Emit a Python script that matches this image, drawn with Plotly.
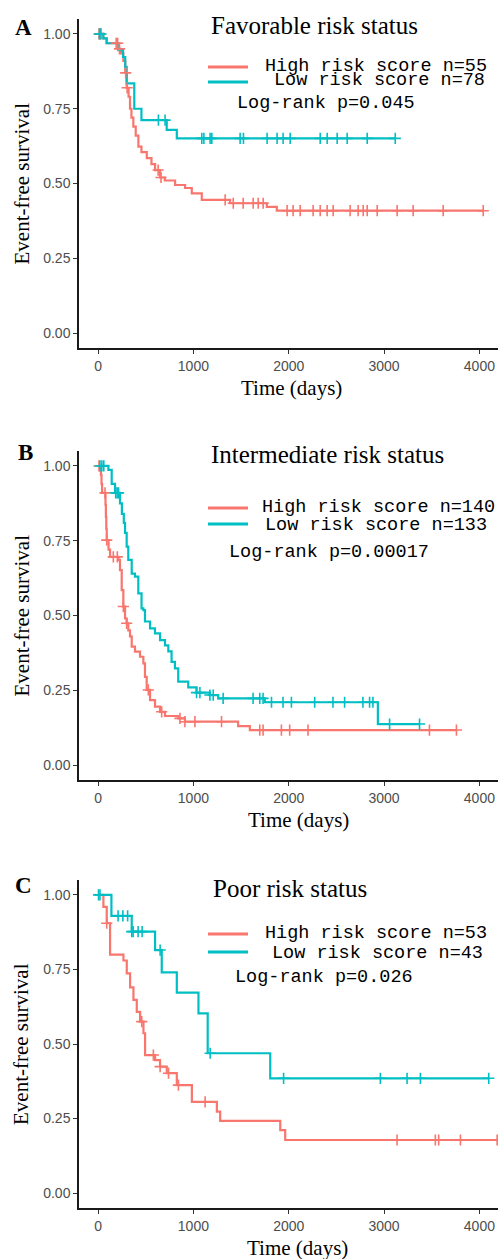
import numpy as np
import plotly.graph_objects as go

# ---------------- data ----------------
# Panel A: Favorable risk status
A_high_t = [0, 55, 90, 215, 240, 265, 285, 300, 320, 335, 350, 370, 395, 423, 455, 511, 560, 598,
            650, 700, 808, 913, 983, 1088, 1385, 1770, 1875, 4040]
A_high_s = [1.0, 0.985, 0.969, 0.95, 0.935, 0.91, 0.87, 0.82, 0.79, 0.75, 0.72, 0.69, 0.66, 0.623,
            0.605, 0.585, 0.565, 0.545, 0.52, 0.51, 0.495, 0.485, 0.467, 0.445, 0.434, 0.422, 0.409, 0.409]
A_high_cens = [10, 25, 190, 205, 225, 290, 305, 630, 660, 1333, 1418, 1522, 1627, 1680, 1732, 1983,
               2046, 2120, 2256, 2330, 2403, 2466, 2644, 2728, 2781, 2823, 2928, 3137, 3305, 3620, 4040]
A_low_t = [0, 55, 90, 213, 262, 285, 300, 380, 455, 720, 826, 3117]
A_low_s = [1.0, 0.985, 0.969, 0.946, 0.923, 0.89, 0.835, 0.75, 0.712, 0.679, 0.651, 0.651]
A_low_cens = [15, 30, 633, 703, 1088, 1110, 1175, 1193, 1490, 1525, 1773, 1878, 1941, 2015, 2330,
              2403, 2508, 2613, 2823, 3117]

# Panel B: Intermediate risk status
B_high_t = [0, 30, 36, 42, 78, 82, 86, 91, 110, 126, 213, 230, 248, 265, 283, 300, 317, 335, 353,
            387, 440, 475, 492, 510, 545, 597, 650, 702, 841, 911, 1469, 1592, 3759]
B_high_s = [1.0, 0.97, 0.94, 0.91, 0.87, 0.83, 0.79, 0.752, 0.72, 0.696, 0.686, 0.652, 0.585, 0.53,
            0.49, 0.474, 0.45, 0.43, 0.396, 0.379, 0.362, 0.34, 0.295, 0.251, 0.217, 0.195, 0.178,
            0.164, 0.156, 0.145, 0.13, 0.117, 0.117]
B_high_cens = [10, 73, 91, 160, 202, 265, 300, 527, 667, 859, 911, 1016, 1295, 1696, 1731, 1923,
               2010, 2202, 3476, 3759]
B_low_t = [0, 108, 143, 178, 230, 250, 270, 283, 300, 317, 353, 387, 422, 456, 475, 492, 545, 597,
           650, 702, 737, 771, 806, 841, 946, 1033, 1173, 1260, 1749, 2935, 3372]
B_low_s = [1.0, 0.987, 0.94, 0.91, 0.875, 0.84, 0.81, 0.776, 0.73, 0.686, 0.64, 0.63, 0.574, 0.524,
           0.518, 0.48, 0.457, 0.44, 0.418, 0.4, 0.38, 0.345, 0.323, 0.279, 0.26, 0.242, 0.234,
           0.223, 0.21, 0.137, 0.137]
B_low_cens = [20, 40, 60, 185, 200, 215, 1033, 1068, 1173, 1208, 1312, 1626, 1696, 1731, 1819,
              1940, 2028, 2272, 2464, 2586, 2778, 2848, 2883, 3058, 3372]

# Panel C: Poor risk status
C_high_t = [0, 56, 91, 126, 266, 301, 336, 371, 406, 441, 476, 493, 598, 650, 721, 826, 984, 1246,
            1281, 1911, 1963, 4186]
C_high_s = [1.0, 0.96, 0.905, 0.8, 0.78, 0.737, 0.69, 0.648, 0.608, 0.575, 0.536, 0.463, 0.446,
            0.424, 0.402, 0.362, 0.306, 0.273, 0.242, 0.211, 0.178, 0.178]
C_high_cens = [91, 458, 580, 651, 739, 843, 1123, 3136, 3538, 3573, 3801, 4186]
C_low_t = [0, 140, 353, 598, 668, 826, 1053, 1150, 1806, 4098]
C_low_s = [1.0, 0.93, 0.877, 0.815, 0.74, 0.672, 0.603, 0.469, 0.385, 0.385]
C_low_cens = [5, 20, 210, 260, 310, 353, 368, 420, 462, 651, 1176, 1946, 2961, 3241, 3381, 4098]

panel_letters = ["A", "B", "C"]
panel_titles = ["Favorable risk status", "Intermediate risk status", "Poor risk status"]
high_labels = ["High risk score n=55", "High risk score n=140", "High risk score n=53"]
low_labels = ["Low risk score n=78", "Low risk score n=133", "Low risk score n=43"]
pvalue_labels = ["Log-rank p=0.045", "Log-rank p=0.00017", "Log-rank p=0.026"]
x_ticks = [0, 1000, 2000, 3000, 4000]
y_ticks = [0.0, 0.25, 0.50, 0.75, 1.00]
x_title = "Time (days)"
y_title = "Event-free survival"

# ---------------- styling / layout ----------------
W, H = 498, 1259
RED = "#F8766D"
BLUE = "#00BFC4"
SERIF = "Liberation Serif, Times New Roman, serif"
MONO = "Liberation Mono, Courier New, monospace"
SANS = "Liberation Sans, Arial, sans-serif"


def px(xp):
    return xp / W


def py(yp):
    return 1 - yp / H


def step_value(ts, ss, t):
    i = int(np.searchsorted(np.asarray(ts), t, side="right")) - 1
    return ss[max(i, 0)]


data = [
    (A_high_t, A_high_s, A_high_cens, A_low_t, A_low_s, A_low_cens),
    (B_high_t, B_high_s, B_high_cens, B_low_t, B_low_s, B_low_cens),
    (C_high_t, C_high_s, C_high_cens, C_low_t, C_low_s, C_low_cens),
]

# pixel geometry of each panel: (axis top, axis bottom)
panel_px = [(19, 348), (451, 780), (880, 1208)]
# text positions (pixels)
letter_pos = [(23, 27), (25, 453), (23, 885)]
title_pos = [(314, 25), (327, 455), (290, 888)]
leg_line_y = [(67, 82), (508, 524), (934, 952)]
high_pos = [(263, 66), (260, 507), (263, 933)]
low_pos = [(272, 81), (263, 526), (270, 953)]
p_pos = [(235, 103), (227, 552), (233, 977)]
xtitle_pos = [(291, 388), (298, 820), (297, 1248)]

fig = go.Figure()
layout_axes = {}
annotations = []
shapes = []

for i, (ht, hs, hc, lt, ls, lc) in enumerate(data):
    n = "" if i == 0 else str(i + 1)
    xa, ya = "x" + n, "y" + n
    for ts, ss, cens, col in [(ht, hs, hc, RED), (lt, ls, lc, BLUE)]:
        fig.add_trace(go.Scatter(
            x=ts, y=ss, mode="lines", xaxis=xa, yaxis=ya, showlegend=False,
            line=dict(color=col, width=2.2, shape="hv"), hoverinfo="skip"))
    for ts, ss, cens, col in [(ht, hs, hc, RED), (lt, ls, lc, BLUE)]:
        fig.add_trace(go.Scatter(
            x=cens, y=[step_value(ts, ss, c) for c in cens], mode="markers",
            xaxis=xa, yaxis=ya, showlegend=False, hoverinfo="skip",
            marker=dict(symbol="cross-thin", size=8, color=col,
                        line=dict(color=col, width=1.6))))

    top, bot = panel_px[i]
    layout_axes["xaxis" + n] = dict(
        domain=[px(79), 1.0], range=[-200, 4195], anchor=ya,
        showline=True, linecolor="#1a1a1a", linewidth=1.5,
        ticks="outside", ticklen=4, tickwidth=1.2, tickcolor="#333333",
        tickvals=x_ticks, ticktext=[str(v) for v in x_ticks],
        tickfont=dict(family=SANS, size=14, color="#4d4d4d"),
        showgrid=False, zeroline=False)
    layout_axes["yaxis" + n] = dict(
        domain=[py(bot), py(top)], range=[-0.05, 1.05], anchor=xa,
        showline=True, linecolor="#1a1a1a", linewidth=1.5,
        ticks="outside", ticklen=4, tickwidth=1.2, tickcolor="#333333",
        tickvals=y_ticks, ticktext=[f"{v:.2f}" for v in y_ticks],
        tickfont=dict(family=SANS, size=14, color="#4d4d4d"),
        showgrid=False, zeroline=False)

    lx, ly = letter_pos[i]
    annotations.append(dict(text=panel_letters[i], x=px(lx), y=py(ly), xref="paper", yref="paper",
                            showarrow=False, xanchor="center", yanchor="middle",
                            font=dict(family=SERIF, size=23, color="black", weight="bold")))
    tx, ty = title_pos[i]
    annotations.append(dict(text=panel_titles[i], x=px(tx), y=py(ty), xref="paper", yref="paper",
                            showarrow=False, xanchor="center", yanchor="middle",
                            font=dict(family=SERIF, size=25, color="black")))
    hx, hy = high_pos[i]
    annotations.append(dict(text=high_labels[i], x=px(hx), y=py(hy), xref="paper", yref="paper",
                            showarrow=False, xanchor="left", yanchor="middle",
                            font=dict(family=MONO, size=18.5, color="black")))
    lx2, ly2 = low_pos[i]
    annotations.append(dict(text=low_labels[i], x=px(lx2), y=py(ly2), xref="paper", yref="paper",
                            showarrow=False, xanchor="left", yanchor="middle",
                            font=dict(family=MONO, size=18.5, color="black")))
    ppx, ppy = p_pos[i]
    annotations.append(dict(text=pvalue_labels[i], x=px(ppx), y=py(ppy), xref="paper", yref="paper",
                            showarrow=False, xanchor="left", yanchor="middle",
                            font=dict(family=MONO, size=18.5, color="black")))
    xx, xy = xtitle_pos[i]
    annotations.append(dict(text=x_title, x=px(xx), y=py(xy), xref="paper", yref="paper",
                            showarrow=False, xanchor="center", yanchor="middle",
                            font=dict(family=SERIF, size=21, color="black")))
    annotations.append(dict(text=y_title, x=px(21), y=py((top + bot) / 2), xref="paper", yref="paper",
                            showarrow=False, xanchor="center", yanchor="middle", textangle=-90,
                            font=dict(family=SERIF, size=21, color="black")))

    y1, y2 = leg_line_y[i]
    shapes.append(dict(type="line", xref="paper", yref="paper", x0=px(208), x1=px(248),
                       y0=py(y1), y1=py(y1), line=dict(color=RED, width=3)))
    shapes.append(dict(type="line", xref="paper", yref="paper", x0=px(208), x1=px(248),
                       y0=py(y2), y1=py(y2), line=dict(color=BLUE, width=3)))

fig.update_layout(
    width=W, height=H,
    margin=dict(l=0, r=0, t=0, b=0),
    paper_bgcolor="white", plot_bgcolor="white",
    showlegend=False,
    annotations=annotations,
    shapes=shapes,
    **layout_axes,
)

fig.write_html(
    "out.html",
    config={"displayModeBar": False},
    post_script="document.body.style.margin='0px';document.body.style.padding='0px';"
                "document.body.style.overflow='hidden';",
)
